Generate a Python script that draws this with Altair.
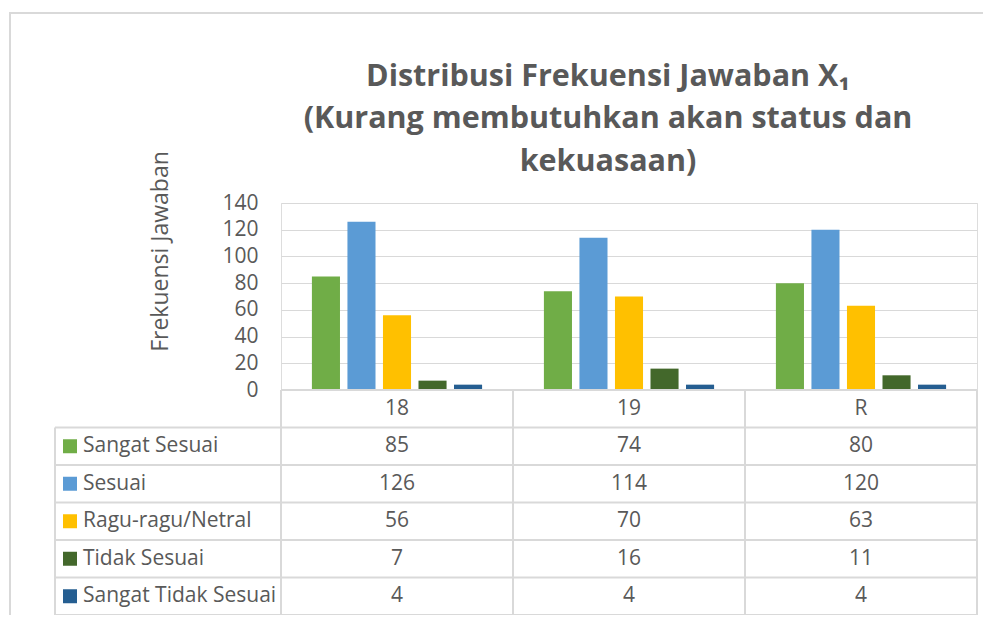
import altair as alt
import pandas as pd

# ---------------- data ----------------
categories = ["18", "19", "R"]
series = ["Sangat Sesuai", "Sesuai", "Ragu-ragu/Netral", "Tidak Sesuai", "Sangat Tidak Sesuai"]
sangat_sesuai = [85, 74, 80]
sesuai = [126, 114, 120]
ragu_netral = [56, 70, 63]
tidak_sesuai = [7, 16, 11]
sangat_tidak_sesuai = [4, 4, 4]
colors = ["#70AD47", "#5B9BD5", "#FFC000", "#43682B", "#255E91"]
y_ticks = [0, 20, 40, 60, 80, 100, 120, 140]
title_lines = ["Distribusi Frekuensi Jawaban X\u2081",
               "(Kurang membutuhkan akan status dan",
               "kekuasaan)"]
y_title = "Frekuensi Jawaban"

# ---------------- layout / style ----------------
TOTAL_W, TOTAL_H = 978, 607
W, H = 696, 187
PAD_L, PAD_T = 273, 195
PAD_R = TOTAL_W - PAD_L - W
PAD_B = TOTAL_H - PAD_T - H
TABLE_H = 225
N_ROWS = 1 + len(series)
COL_W = W / len(categories)
LBL_LEFT = -226 / COL_W
SWATCH_X = -211 / COL_W
LBL_TEXT_X = -198 / COL_W
FONT = "Open Sans"
FS = 21
TXT = "#595959"
LINE = "#D9D9D9"

all_values = [sangat_sesuai, sesuai, ragu_netral, tidak_sesuai, sangat_tidak_sesuai]

bars_df = pd.DataFrame([
    {"cat": c, "series": s, "value": vals[i]}
    for s, vals in zip(series, all_values)
    for i, c in enumerate(categories)
])

cells = [{"col": i + 0.5, "row": 0.5, "text": c} for i, c in enumerate(categories)]
for j, (s, vals) in enumerate(zip(series, all_values)):
    for i, v in enumerate(vals):
        cells.append({"col": i + 0.5, "row": j + 1.5, "text": str(v)})
cells_df = pd.DataFrame(cells)

labels_df = pd.DataFrame([
    {"series": s, "row": j + 1.5, "sx": SWATCH_X, "tx": LBL_TEXT_X}
    for j, s in enumerate(series)
])

hl = [{"x": 0.0, "x2": float(len(categories)), "y": 0.0}]
for r in range(1, N_ROWS + 1):
    hl.append({"x": LBL_LEFT, "x2": float(len(categories)), "y": float(r)})
hlines_df = pd.DataFrame(hl)
vl = [{"x": float(c), "y": 0.0, "y2": float(N_ROWS)} for c in range(len(categories) + 1)]
vl.append({"x": LBL_LEFT, "y": 1.0, "y2": float(N_ROWS)})
vlines_df = pd.DataFrame(vl)

color_scale = alt.Scale(domain=series, range=colors)
tx_scale = alt.Scale(domain=[0, len(categories)], range=[0, W], zero=False, nice=False)
ty_scale = alt.Scale(domain=[0, N_ROWS], range=[H, H + TABLE_H], zero=False, nice=False)

bars = alt.Chart(bars_df).mark_bar().encode(
    x=alt.X("cat:N", scale=alt.Scale(domain=categories, paddingInner=0, paddingOuter=0), axis=None),
    xOffset=alt.XOffset("series:N", scale=alt.Scale(domain=series, paddingInner=0.21, paddingOuter=0.87)),
    y=alt.Y("value:Q", scale=alt.Scale(domain=[0, 140], nice=False),
            axis=alt.Axis(values=y_ticks, title=y_title, grid=True, gridColor=LINE, gridWidth=1,
                          domain=False, ticks=False, labelPadding=23, labelFontSize=FS,
                          labelFont=FONT, labelColor=TXT, titleFont=FONT, titleFontSize=23,
                          titleFontWeight="normal", titleColor=TXT, titleX=-121, titleY=48,
                          titleBaseline="middle", titleAngle=270)),
    color=alt.Color("series:N", scale=color_scale, legend=None),
)

hlines = alt.Chart(hlines_df).mark_rule(color=LINE, strokeWidth=2).encode(
    x=alt.X("x:Q", scale=tx_scale, axis=None), x2="x2:Q",
    y=alt.Y("y:Q", scale=ty_scale, axis=None),
)
vlines = alt.Chart(vlines_df).mark_rule(color=LINE, strokeWidth=2).encode(
    x=alt.X("x:Q", scale=tx_scale, axis=None),
    y=alt.Y("y:Q", scale=ty_scale, axis=None), y2="y2:Q",
)
cell_text = alt.Chart(cells_df).mark_text(font=FONT, fontSize=FS, color=TXT, baseline="middle", align="center").encode(
    x=alt.X("col:Q", scale=tx_scale, axis=None),
    y=alt.Y("row:Q", scale=ty_scale, axis=None),
    text="text:N",
)
swatches = alt.Chart(labels_df).mark_square(size=196, opacity=1).encode(
    x=alt.X("sx:Q", scale=tx_scale, axis=None),
    y=alt.Y("row:Q", scale=ty_scale, axis=None),
    color=alt.Color("series:N", scale=color_scale, legend=None),
)
label_text = alt.Chart(labels_df).mark_text(font=FONT, fontSize=FS, color=TXT, baseline="middle", align="left").encode(
    x=alt.X("tx:Q", scale=tx_scale, axis=None),
    y=alt.Y("row:Q", scale=ty_scale, axis=None),
    text="series:N",
)

frame_top = alt.Chart(bars_df).mark_rule(color=LINE, strokeWidth=2).encode(
    x=alt.value(-272), x2=alt.value(W + PAD_R - 3), y=alt.value(-190))
frame_left = alt.Chart(bars_df).mark_rule(color=LINE, strokeWidth=2).encode(
    x=alt.value(-271), y=alt.value(-190), y2=alt.value(H + PAD_B))

chart = alt.layer(
    frame_top, frame_left, bars, hlines, vlines, cell_text, swatches, label_text
).resolve_scale(x="independent", y="independent").properties(
    width=W, height=H,
    padding={"left": PAD_L, "top": PAD_T, "right": PAD_R, "bottom": PAD_B},
    autosize=alt.AutoSizeParams(type="none"),
    title=alt.TitleParams(text=title_lines, font=FONT, fontSize=30.5, fontWeight="bold",
                          color=TXT, anchor="middle", frame="group", lineHeight=42.5,
                          offset=-165, dx=-21),
).configure_view(stroke=None).configure(background="white")

chart.save("out.html", embed_options={"renderer": "svg", "actions": False})
